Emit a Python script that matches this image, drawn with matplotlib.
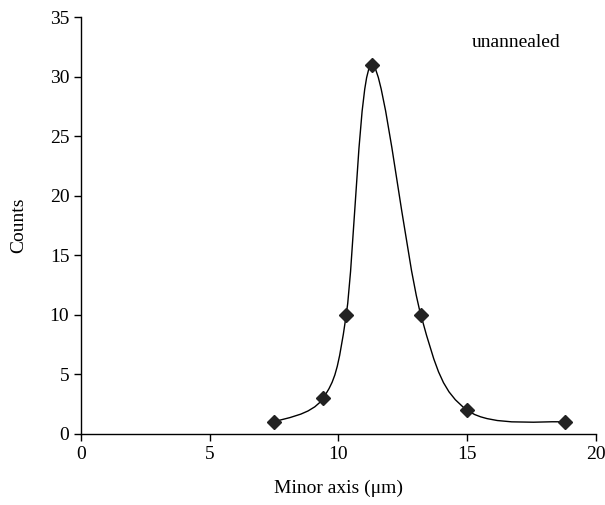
import numpy as np
import matplotlib
matplotlib.use("Agg")
import matplotlib.pyplot as plt
from matplotlib.path import Path
from matplotlib.patches import PathPatch

minor_axis = [7.5, 9.4, 10.3, 11.3, 13.2, 15.0, 18.8]
counts = [1, 3, 10, 31, 10, 2, 1]
x_ticks = [0, 5, 10, 15, 20]
y_ticks = [0, 5, 10, 15, 20, 25, 30, 35]

plt.rcParams['font.family'] = ['Liberation Serif', 'DejaVu Serif']

fig = plt.figure(figsize=(6.05, 5.05), dpi=100)
ax = fig.add_axes([0.134, 0.1406, 0.851, 0.8254])

# Excel-style smoothed line (cardinal spline as cubic Bezier segments)
xs = np.array(minor_axis, float)
ys = np.array(counts, float)
n = len(xs)
verts = [(xs[0], ys[0])]
codes = [Path.MOVETO]
t = 1.0 / 6.0
for i in range(n - 1):
    p0 = np.array([xs[max(i - 1, 0)], ys[max(i - 1, 0)]])
    p1 = np.array([xs[i], ys[i]])
    p2 = np.array([xs[i + 1], ys[i + 1]])
    p3 = np.array([xs[min(i + 2, n - 1)], ys[min(i + 2, n - 1)]])
    c1 = p1 + (p2 - p0) * t
    c2 = p2 - (p3 - p1) * t
    verts += [tuple(c1), tuple(c2), tuple(p2)]
    codes += [Path.CURVE4] * 3
ax.add_patch(PathPatch(Path(verts, codes), facecolor='none', edgecolor='black', lw=1.0))

ax.plot(minor_axis, counts, linestyle='none', marker='D', markersize=7.5,
        color='#222222', markeredgecolor='#222222', zorder=3)

ax.set_xlim(0, 20)
ax.set_ylim(0, 35)
ax.set_xticks(x_ticks)
ax.set_yticks(y_ticks)
for s in ['top', 'right']:
    ax.spines[s].set_visible(False)
ax.spines['left'].set_linewidth(1.0)
ax.spines['bottom'].set_linewidth(1.0)
ax.tick_params(direction='out', length=5, width=1.0, labelsize=14, colors='black')
ax.set_xlabel('Minor axis (μm)', fontsize=14, labelpad=12)
ax.set_ylabel('Counts', fontsize=14, labelpad=16)
ax.text(16.9, 32.9, 'unannealed', fontsize=14, ha='center', va='center')

fig.savefig('out.png', dpi=100)
